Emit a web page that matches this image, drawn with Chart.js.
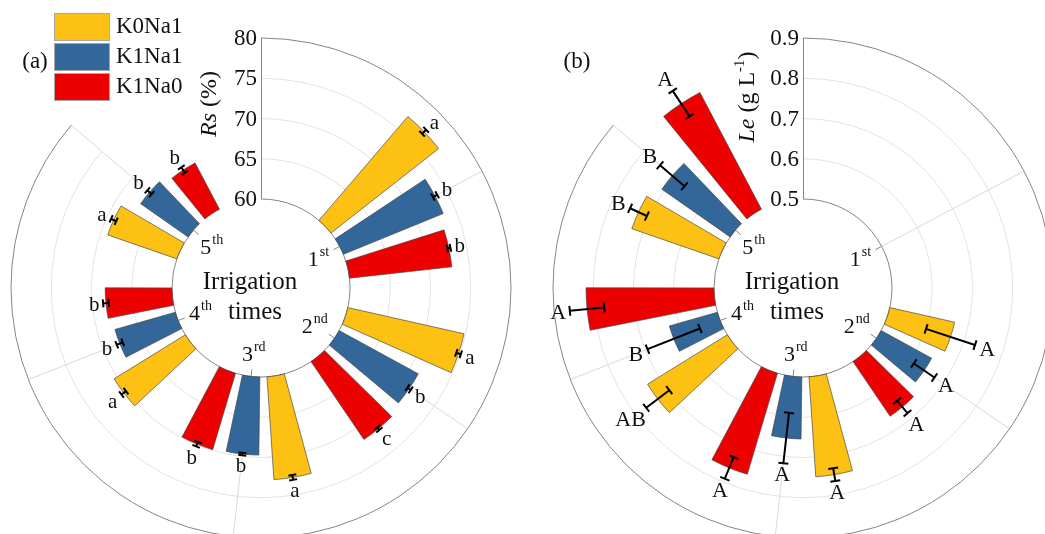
<!DOCTYPE html>
<html>
<head>
<meta charset="utf-8">
<script src="https://cdn.jsdelivr.net/npm/chart.js@4.4.1/dist/chart.umd.min.js"></script>
<style>
  html, body { margin: 0; padding: 0; background: #fff; overflow: hidden; }
  #wrap { position: relative; width: 1045px; height: 534px; overflow: hidden; }
  canvas { position: absolute; top: 0; }
  #chartA { left: 0; }
  #chartB { left: 522px; }
</style>
</head>
<body>
<div id="wrap">
  <canvas id="chartA" width="522" height="545"></canvas>
  <canvas id="chartB" width="531" height="545"></canvas>
</div>
<script>
const categories = ['1st', '2nd', '3rd', '4th', '5th'];
const seriesNames = ['K0Na1', 'K1Na1', 'K1Na0'];
const seriesColors = ['#FDC114', '#336699', '#EC0000'];

// (a) Rs (%)
const rsK0Na1 = [77.0, 74.8, 72.8, 70.4, 69.1];
const rsK1Na1 = [73.4, 71.2, 69.7, 67.8, 67.2];
const rsK1Na0 = [72.8, 71.7, 69.9, 68.3, 66.5];
const rsErrK0Na1 = [0.35, 0.3, 0.3, 0.35, 0.35];
const rsErrK1Na1 = [0.3, 0.25, 0.15, 0.4, 0.35];
const rsErrK1Na0 = [0.2, 0.2, 0.3, 0.35, 0.4];
const rsLetK0Na1 = ['a', 'a', 'a', 'a', 'a'];
const rsLetK1Na1 = ['b', 'b', 'b', 'b', 'b'];
const rsLetK1Na0 = ['b', 'c', 'b', 'b', 'b'];
const rsTicks = [60, 65, 70, 75, 80];

// (b) Le (g L-1)
const leK0Na1 = [null, 0.665, 0.749, 0.733, 0.729];
const leK1Na1 = [null, 0.643, 0.654, 0.624, 0.707];
const leK1Na0 = [null, 0.664, 0.762, 0.818, 0.828];
const leErrK0Na1 = [null, 0.064, 0.016, 0.036, 0.023];
const leErrK1Na1 = [null, 0.031, 0.063, 0.07, 0.04];
const leErrK1Na0 = [null, 0.02, 0.029, 0.043, 0.038];
const leLetK0Na1 = [null, 'A', 'A', 'AB', 'B'];
const leLetK1Na1 = [null, 'A', 'A', 'B', 'B'];
const leLetK1Na0 = [null, 'A', 'A', 'A', 'A'];
const leTicks = [0.5, 0.6, 0.7, 0.8, 0.9];

const SERIF = '"Liberation Serif", "Times New Roman", serif';
const BAR_DEG = 11.3;      // angular width of one bar
const STEP_DEG = 15.9;     // bar to bar inside a group
const GROUP_DEG = 62.13;   // group to group
const HOLE = 0.356;        // inner hole as share of the radius

function drawOrdinal(ctx, x, y, label) {
  const num = label.slice(0, 1), suf = label.slice(1);
  ctx.font = `22px ${SERIF}`;
  const w1 = ctx.measureText(num).width;
  ctx.font = `14px ${SERIF}`;
  const w2 = ctx.measureText(suf).width;
  const x0 = x - (w1 + w2 + 1) / 2;
  ctx.textAlign = 'left';
  ctx.textBaseline = 'alphabetic';
  ctx.font = `22px ${SERIF}`;
  ctx.fillText(num, x0, y + 8);
  ctx.font = `14px ${SERIF}`;
  ctx.fillText(suf, x0 + w1 + 1, y - 2);
}

function drawTitle(ctx, x, y, parts) {
  ctx.save();
  ctx.translate(x, y);
  ctx.rotate(-Math.PI / 2);
  ctx.textBaseline = 'middle';
  ctx.textAlign = 'left';
  const fontOf = p => p.sup ? `15px ${SERIF}` : `${p.italic ? 'italic ' : ''}24px ${SERIF}`;
  let total = 0;
  parts.forEach(p => { ctx.font = fontOf(p); total += ctx.measureText(p.t).width; });
  let pos = -total / 2;
  parts.forEach(p => {
    ctx.font = fontOf(p);
    ctx.fillText(p.t, pos, p.sup ? -8 : 0);
    pos += ctx.measureText(p.t).width;
  });
  ctx.restore();
}

function drawLegend(ctx) {
  seriesNames.forEach((name, s) => {
    const y = 13 + s * 30;
    ctx.fillStyle = seriesColors[s];
    ctx.fillRect(54, y, 55, 27);
    ctx.strokeStyle = '#a8a8a8';
    ctx.lineWidth = 1;
    ctx.strokeRect(54.5, y + 0.5, 55, 27);
    ctx.fillStyle = '#111';
    ctx.font = `23px ${SERIF}`;
    ctx.textAlign = 'left';
    ctx.textBaseline = 'middle';
    ctx.fillText(name, 116, y + 14);
  });
}

function radialChart(id, pad, p) {
  const values = [p.y, p.b, p.r];
  const errs = [p.ye, p.be, p.re];
  const lets = [p.yl, p.bl, p.rl];
  const data = [], colors = [], borders = [];
  categories.forEach((c, g) => {
    for (let s = 0; s < 3; s++) {
      data.push(values[s][g]);
      colors.push(seriesColors[s]);
      borders.push('rgba(70,70,70,0.85)');
      data.push(null);
      colors.push('rgba(0,0,0,0)');
      borders.push('rgba(0,0,0,0)');
    }
  });
  const lo = p.ticks[0], hi = p.ticks[p.ticks.length - 1];
  const min = lo - (hi - lo) * HOLE / (1 - HOLE);

  const rings = {
    id: 'rings',
    afterDatasetsUpdate(chart) {
      const scale = chart.scales.r;
      const inner = scale.getDistanceFromCenterForValue(lo);
      chart.getDatasetMeta(0).data.forEach((arc, i) => {
        if (data[i] == null) { arc.outerRadius = 0; arc.innerRadius = 0; }
        else arc.innerRadius = inner;
      });
    },
    beforeDatasetsDraw(chart) {
      const ctx = chart.ctx, scale = chart.scales.r;
      const cx = scale.xCenter, cy = scale.yCenter;
      const arcs = chart.getDatasetMeta(0).data;
      const groupAngle = g => { const a = arcs[g * 6 + 2]; return (a.startAngle + a.endAngle) / 2; };
      const endAngle = groupAngle(categories.length - 1);
      const rLo = scale.getDistanceFromCenterForValue(lo);
      const rHi = scale.getDistanceFromCenterForValue(hi);
      ctx.save();
      // spokes
      ctx.strokeStyle = '#d9d9d9';
      ctx.lineWidth = 1;
      categories.forEach((c, g) => {
        const a = groupAngle(g);
        ctx.beginPath();
        ctx.moveTo(cx + Math.cos(a) * rLo, cy + Math.sin(a) * rLo);
        ctx.lineTo(cx + Math.cos(a) * rHi, cy + Math.sin(a) * rHi);
        ctx.stroke();
      });
      // rings
      p.ticks.forEach((v, i) => {
        const r = scale.getDistanceFromCenterForValue(v);
        const edge = i === 0 || i === p.ticks.length - 1;
        ctx.strokeStyle = edge ? '#858585' : '#e2e2e2';
        ctx.beginPath();
        ctx.arc(cx, cy, r, -Math.PI / 2, endAngle, false);
        ctx.stroke();
      });
      // angular ticks on the inner ring
      ctx.strokeStyle = '#858585';
      categories.forEach((c, g) => {
        const a = groupAngle(g);
        ctx.beginPath();
        ctx.moveTo(cx + Math.cos(a) * (rLo - 7), cy + Math.sin(a) * (rLo - 7));
        ctx.lineTo(cx + Math.cos(a) * rLo, cy + Math.sin(a) * rLo);
        ctx.stroke();
      });
      // radial axis
      ctx.beginPath();
      ctx.moveTo(cx + 0.5, cy - rLo);
      ctx.lineTo(cx + 0.5, cy - rHi);
      ctx.stroke();
      ctx.restore();
    },
    afterDatasetsDraw(chart) {
      const ctx = chart.ctx, scale = chart.scales.r;
      const cx = scale.xCenter, cy = scale.yCenter;
      const arcs = chart.getDatasetMeta(0).data;
      ctx.save();
      // error bars and letters
      categories.forEach((c, g) => {
        for (let s = 0; s < 3; s++) {
          const v = values[s][g];
          if (v == null) continue;
          const arc = arcs[g * 6 + s * 2];
          const a = (arc.startAngle + arc.endAngle) / 2;
          const ux = Math.cos(a), uy = Math.sin(a);
          const r1 = scale.getDistanceFromCenterForValue(v - errs[s][g]);
          const r2 = scale.getDistanceFromCenterForValue(v + errs[s][g]);
          ctx.strokeStyle = '#000';
          ctx.lineWidth = 2;
          ctx.beginPath();
          ctx.moveTo(cx + ux * r1, cy + uy * r1);
          ctx.lineTo(cx + ux * r2, cy + uy * r2);
          [r1, r2].forEach(r => {
            ctx.moveTo(cx + ux * r - uy * p.cap, cy + uy * r + ux * p.cap);
            ctx.lineTo(cx + ux * r + uy * p.cap, cy + uy * r - ux * p.cap);
          });
          ctx.stroke();
          ctx.font = `${p.letterSize}px ${SERIF}`;
          const w = ctx.measureText(lets[s][g]).width;
          const h = p.letterSize * 0.68;
          const rl = r2 + 3 + 0.5 * (Math.abs(ux) * w + Math.abs(uy) * h);
          ctx.fillStyle = '#111';
          ctx.textAlign = 'center';
          ctx.textBaseline = 'middle';
          ctx.fillText(lets[s][g], cx + ux * rl, cy + uy * rl + 1);
        }
      });
      // radial tick labels
      ctx.fillStyle = '#111';
      ctx.font = `23px ${SERIF}`;
      ctx.textAlign = 'right';
      ctx.textBaseline = 'middle';
      p.ticks.forEach(v => {
        const r = scale.getDistanceFromCenterForValue(v);
        ctx.fillText(p.fmt(v), cx - 4, cy - r + 1);
      });
      drawTitle(ctx, cx + p.titleDx, p.titleY, p.title);
      // group labels
      categories.forEach((c, g) => {
        const arc = arcs[g * 6 + 2];
        const a = (arc.startAngle + arc.endAngle) / 2;
        drawOrdinal(ctx, cx + Math.cos(a) * 65, cy + Math.sin(a) * 65, c);
      });
      ctx.font = `25px ${SERIF}`;
      ctx.textAlign = 'center';
      ctx.textBaseline = 'middle';
      ctx.fillText('Irrigation', cx - 11, cy - 6);
      ctx.fillText('times', cx - 6, cy + 24);
      ctx.font = `23px ${SERIF}`;
      ctx.fillText(p.panel, cx - 226, 62);
      if (p.legend) drawLegend(ctx);
      ctx.restore();
    }
  };

  return new Chart(document.getElementById(id), {
    type: 'polarArea',
    data: {
      labels: data.map((_, i) => String(i)),
      datasets: [{
        data,
        backgroundColor: colors,
        borderColor: borders,
        borderWidth: 0.8,
        angle: ctx => ctx.dataIndex % 2 === 0 ? BAR_DEG
          : (ctx.dataIndex % 6 === 5 ? GROUP_DEG - 2 * STEP_DEG - BAR_DEG : STEP_DEG - BAR_DEG),
      }],
    },
    options: {
      responsive: false,
      animation: false,
      events: [],
      layout: { padding: pad },
      plugins: { legend: { display: false }, tooltip: { enabled: false } },
      scales: {
        r: {
          min,
          max: hi,
          startAngle: GROUP_DEG - STEP_DEG - BAR_DEG / 2,
          ticks: { display: false },
          grid: { display: false },
          angleLines: { display: false },
          pointLabels: { display: false },
        },
      },
    },
    plugins: [rings],
  });
}

radialChart('chartA', { left: 11, top: 38, right: 11, bottom: 7 }, {
  y: rsK0Na1, b: rsK1Na1, r: rsK1Na0,
  ye: rsErrK0Na1, be: rsErrK1Na1, re: rsErrK1Na0,
  yl: rsLetK0Na1, bl: rsLetK1Na1, rl: rsLetK1Na0,
  ticks: rsTicks, fmt: v => String(v),
  cap: 4, letterSize: 21,
  title: [{ t: 'Rs', italic: true }, { t: ' (%)' }], titleDx: -51, titleY: 104,
  panel: '(a)', legend: true,
});

radialChart('chartB', { left: 31, top: 38, right: 0, bottom: 7 }, {
  y: leK0Na1, b: leK1Na1, r: leK1Na0,
  ye: leErrK0Na1, be: leErrK1Na1, re: leErrK1Na0,
  yl: leLetK0Na1, bl: leLetK1Na1, rl: leLetK1Na0,
  ticks: leTicks, fmt: v => v.toFixed(1),
  cap: 5, letterSize: 22,
  title: [{ t: 'Le', italic: true }, { t: ' (g L' }, { t: '-1', sup: true }, { t: ')' }], titleDx: -55, titleY: 97,
  panel: '(b)', legend: false,
});
</script>
</body>
</html>
